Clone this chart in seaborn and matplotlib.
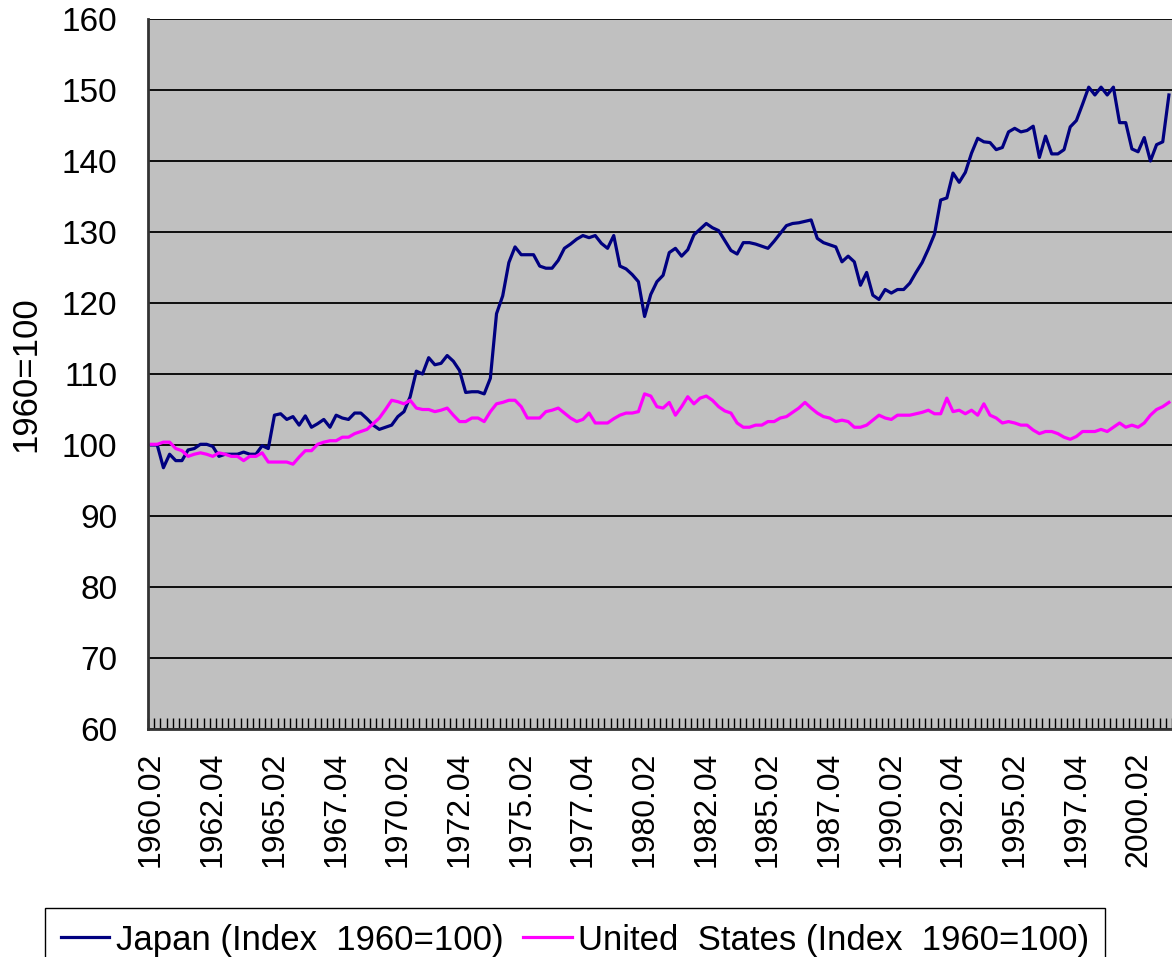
import matplotlib
matplotlib.use('Agg')
import matplotlib.pyplot as plt
import numpy as np
import pandas as pd
import seaborn as sns

# Quarterly index values (1960=100), 1960.02 .. 2001.03
japan = [
    100.0, 100.0, 96.8, 98.7, 97.8, 97.8, 99.3, 99.5, 100.1, 100.1,
    99.8, 98.4, 98.7, 98.7, 98.7, 99.0, 98.7, 98.7, 99.9, 99.5,
    104.2, 104.4, 103.6, 104.0, 102.8, 104.1, 102.5, 103.0, 103.6, 102.5,
    104.2, 103.8, 103.6, 104.5, 104.5, 103.7, 102.8, 102.2, 102.5, 102.8,
    104.0, 104.7, 106.8, 110.4, 110.0, 112.3, 111.3, 111.5, 112.6, 111.8,
    110.5, 107.4, 107.5, 107.5, 107.2, 109.4, 118.5, 121.0, 125.7, 127.9,
    126.8, 126.8, 126.8, 125.2, 124.9, 124.9, 126.0, 127.7, 128.3, 129.0,
    129.5, 129.2, 129.5, 128.4, 127.7, 129.5, 125.2, 124.8, 124.0, 123.0,
    118.1, 121.2, 123.0, 123.9, 127.1, 127.7, 126.6, 127.5, 129.6, 130.4,
    131.2, 130.6, 130.2, 128.8, 127.4, 126.9, 128.5, 128.5, 128.3, 128.0,
    127.7, 128.7, 129.8, 130.9, 131.2, 131.3, 131.5, 131.7, 129.1, 128.5,
    128.2, 127.9, 125.8, 126.6, 125.8, 122.5, 124.3, 121.1, 120.5, 121.9,
    121.4, 121.9, 121.9, 122.8, 124.3, 125.7, 127.6, 129.7, 134.5, 134.8,
    138.3, 137.0, 138.4, 141.1, 143.2, 142.7, 142.6, 141.6, 141.9, 144.1,
    144.6, 144.1, 144.3, 144.9, 140.5, 143.5, 141.0, 141.0, 141.6, 144.8,
    145.7, 148.0, 150.4, 149.3, 150.4, 149.3, 150.4, 145.4, 145.4, 141.7,
    141.3, 143.3, 140.0, 142.3, 142.7, 149.3,
]
united_states = [
    100.1, 100.1, 100.4, 100.4, 99.5, 99.2, 98.4, 98.7, 98.9, 98.7,
    98.4, 98.9, 98.7, 98.4, 98.4, 97.8, 98.4, 98.4, 98.9, 97.6,
    97.6, 97.6, 97.6, 97.3, 98.3, 99.2, 99.2, 100.1, 100.4, 100.6,
    100.6, 101.1, 101.1, 101.6, 101.9, 102.2, 103.0, 103.8, 105.0, 106.3,
    106.1, 105.8, 106.3, 105.2, 105.0, 105.0, 104.7, 104.9, 105.2, 104.2,
    103.3, 103.3, 103.8, 103.8, 103.3, 104.7, 105.8, 106.0, 106.3, 106.3,
    105.4, 103.8, 103.8, 103.8, 104.7, 104.9, 105.2, 104.5, 103.8, 103.3,
    103.6, 104.5, 103.1, 103.1, 103.1, 103.7, 104.2, 104.5, 104.5, 104.7,
    107.2, 106.9, 105.4, 105.2, 106.0, 104.2, 105.4, 106.8, 105.8, 106.6,
    106.9, 106.3, 105.4, 104.8, 104.5, 103.1, 102.5, 102.5, 102.8, 102.8,
    103.3, 103.3, 103.8, 104.0, 104.6, 105.2, 106.0, 105.2, 104.5, 104.0,
    103.8, 103.3, 103.5, 103.3, 102.5, 102.5, 102.8, 103.5, 104.2, 103.8,
    103.6, 104.2, 104.2, 104.2, 104.4, 104.6, 104.9, 104.4, 104.4, 106.6,
    104.7, 104.9, 104.4, 104.9, 104.2, 105.8, 104.2, 103.8, 103.1, 103.3,
    103.1, 102.8, 102.8, 102.1, 101.6, 101.9, 101.9, 101.6, 101.1, 100.8,
    101.2, 101.9, 101.9, 101.9, 102.2, 101.9, 102.5, 103.1, 102.5, 102.8,
    102.5, 103.1, 104.2, 105.0, 105.4, 106.0,
]
quarters = [f'{1960 + (q - 1) // 4}.{(q - 1) % 4 + 1:02d}' for q in range(2, 2 + len(japan))]
series_names = ['Japan (Index  1960=100)', 'United  States (Index  1960=100)']
colors = ['#000080', '#FF00FF']

n = len(quarters)
df = pd.DataFrame({'pos': np.arange(n), series_names[0]: japan, series_names[1]: united_states})
df_long = df.melt(id_vars='pos', var_name='series', value_name='value')

plt.rcParams['font.family'] = ['Liberation Sans', 'DejaVu Sans']

fig = plt.figure(figsize=(11.72, 9.57), dpi=100)
ax = fig.add_axes([148 / 1172, 1 - 729 / 957, 1 - 148 / 1172, (729 - 19) / 957])
ax.set_facecolor('#C0C0C0')

sns.lineplot(data=df_long, x='pos', y='value', hue='series', hue_order=series_names,
             palette=colors, linewidth=2.3, ax=ax, legend=False)

ax.set_xlim(-0.5, n - 0.5)
ax.set_ylim(60, 160)
ax.set_yticks(np.arange(60, 161, 10))
ax.yaxis.grid(True, color='black', linewidth=1.3)
ax.set_axisbelow(True)

ax.set_xticks(np.arange(0, n, 10))
ax.set_xticklabels(quarters[::10], rotation=90)
ax.set_xticks(np.arange(-0.5, n, 1), minor=True)
ax.tick_params(axis='x', which='major', length=0, labelsize=23, pad=16)
ax.tick_params(axis='x', which='minor', direction='in', length=8, width=1, color='black')
ax.tick_params(axis='y', labelsize=24, length=0, pad=22)

ax.set_xlabel('')
ax.set_ylabel('1960=100', fontsize=25, labelpad=14)

for side in ['top', 'right']:
    ax.spines[side].set_visible(False)
for side in ['left', 'bottom']:
    ax.spines[side].set_color('#333333')
    ax.spines[side].set_linewidth(2)

handles = ax.get_lines()[:2]
leg = fig.legend(handles, series_names, loc='upper left',
                 bbox_to_anchor=(45 / 1172, 1 - 908 / 957), ncol=2,
                 frameon=True, fancybox=False, edgecolor='black', framealpha=1,
                 prop={'size': 25},
                 handlelength=1.4, handletextpad=0.2, columnspacing=0.55,
                 borderpad=0.45, borderaxespad=0)
leg.get_frame().set_linewidth(1)

fig.savefig('out.png', dpi=100)
